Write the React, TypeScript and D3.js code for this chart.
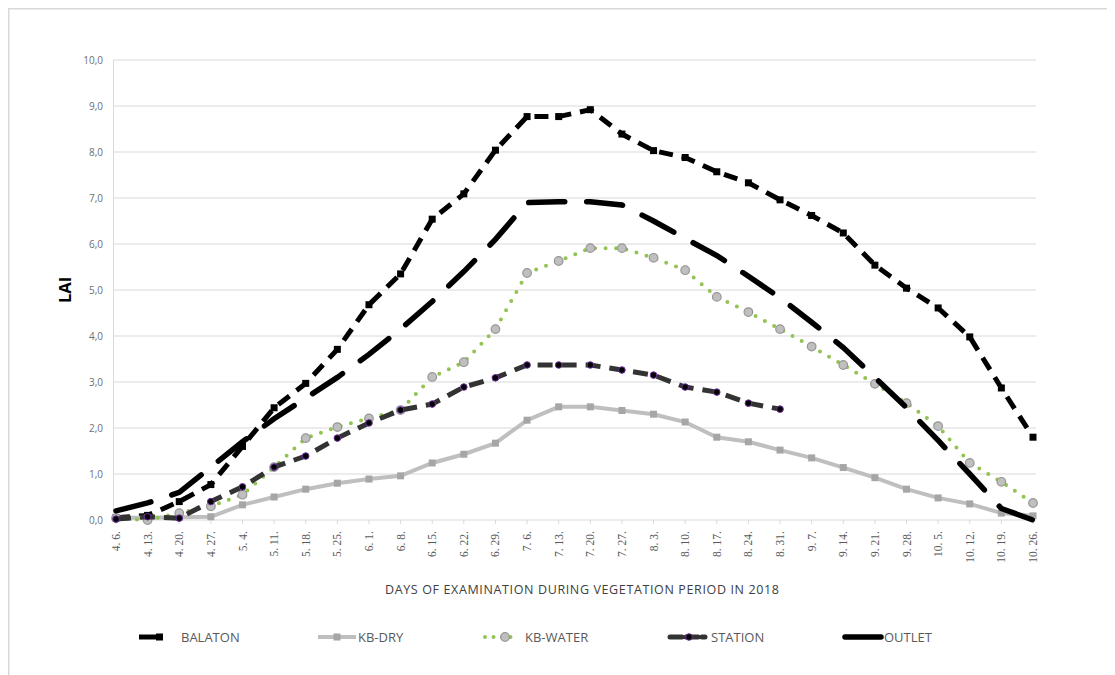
import React from "react";
import * as d3 from "d3";

const categories = ["4. 6.","4. 13.","4. 20.","4. 27.","5. 4.","5. 11.","5. 18.","5. 25.","6. 1.","6. 8.","6. 15.","6. 22.","6. 29.","7. 6.","7. 13.","7. 20.","7. 27.","8. 3.","8. 10.","8. 17.","8. 24.","8. 31.","9. 7.","9. 14.","9. 21.","9. 28.","10. 5.","10. 12.","10. 19.","10. 26."];

const balaton = [0.05,0.1,0.4,0.77,1.6,2.44,2.97,3.71,4.68,5.35,6.54,7.09,8.04,8.77,8.77,8.92,8.39,8.03,7.88,7.57,7.33,6.96,6.62,6.24,5.54,5.04,4.61,3.98,2.87,1.8];
const kbDry = [0.05,0.05,0.06,0.07,0.33,0.5,0.67,0.8,0.89,0.96,1.24,1.43,1.67,2.17,2.46,2.46,2.38,2.3,2.13,1.8,1.7,1.52,1.35,1.14,0.92,0.67,0.48,0.35,0.15,0.09];
const kbWater = [0.04,0.0,0.15,0.3,0.55,1.15,1.78,2.02,2.21,2.39,3.11,3.43,4.15,5.37,5.63,5.91,5.91,5.7,5.43,4.85,4.52,4.15,3.77,3.37,2.96,2.54,2.04,1.24,0.83,0.37];
const station: (number | null)[] = [0.02,0.07,0.04,0.4,0.72,1.15,1.39,1.78,2.11,2.39,2.52,2.89,3.09,3.37,3.37,3.37,3.26,3.15,2.89,2.78,2.54,2.41,null,null,null,null,null,null,null,null];
const outlet = [0.2,0.37,0.6,1.15,1.7,2.2,2.65,3.1,3.6,4.15,4.75,5.4,6.1,6.9,6.92,6.92,6.85,6.5,6.12,5.75,5.3,4.83,4.3,3.75,3.1,2.44,1.73,1.0,0.25,0.0];

const yTicks = [0,1,2,3,4,5,6,7,8,9,10];
const seriesNames = ["BALATON","KB-DRY","KB-WATER","STATION","OUTLET"];

const X0 = 116, X1 = 1033, Y0 = 520, Y1 = 60;

export default function App() {
  const x = d3.scalePoint<string>().domain(categories).range([X0, X1]);
  const y = d3.scaleLinear().domain([0, 10]).range([Y0, Y1]);
  const line = d3.line<[string, number | null]>()
    .defined(d => d[1] != null)
    .x(d => x(d[0]) as number)
    .y(d => y(d[1] as number));
  const pts = (arr: (number | null)[]) => categories.map((c, i) => [c, arr[i]] as [string, number | null]);

  const sans = "'Open Sans', 'Liberation Sans', sans-serif";
  const grid = "#d9d9d9";

  return (
    <svg width={1107} height={667} style={{ display: "block" }}>
      <g transform="translate(-8,-8)">
        <rect x={8} y={8} width={1107} height={667} fill="#fff" />
        <line x1={8.75} y1={8} x2={8.75} y2={675} stroke="#d9d9d9" strokeWidth={1.5} />
        <line x1={8} y1={8.75} x2={1115} y2={8.75} stroke="#d9d9d9" strokeWidth={1.5} />

        {yTicks.map(t => (
          <g key={t}>
            <line x1={113} x2={1036} y1={y(t)} y2={y(t)} stroke={grid} strokeWidth={1} />
            <text x={103} y={y(t)} dy="0.35em" textAnchor="end" fontSize={10} fill="#6f6f6f" fontFamily={sans}>
              {t.toFixed(1).replace(".", ",")}
            </text>
          </g>
        ))}
        <line x1={113.5} x2={113.5} y1={Y1} y2={Y0} stroke={grid} strokeWidth={1} />
        {categories.map(c => (
          <g key={c}>
            <line x1={x(c)} x2={x(c)} y1={Y0} y2={Y0 + 4} stroke={grid} strokeWidth={1} />
            <text transform={`translate(${x(c)},${Y0 + 11}) rotate(-90)`} dy="0.35em" textAnchor="end"
              fontSize={11.5} fill="#595959" fontFamily="'Liberation Serif', 'DejaVu Serif', serif">{c}</text>
          </g>
        ))}

        <text transform="translate(65,290) rotate(-90)" textAnchor="middle" dy="0.35em" fontSize={16.5} fontWeight="bold" fill="#000" fontFamily={sans}>LAI</text>
        <text x={385} y={590} dy="0.35em" textAnchor="start" fontSize={12.5} fill="#404040" fontFamily={sans}
          textLength={394} lengthAdjust="spacing">DAYS OF EXAMINATION DURING VEGETATION PERIOD IN 2018</text>

        {/* BALATON */}
        <path d={line(pts(balaton)) || ""} fill="none" stroke="#000" strokeWidth={5} strokeDasharray="14,9" />
        {balaton.map((v, i) => (
          <rect key={"b" + i} x={(x(categories[i]) as number) - 3.5} y={y(v) - 3.5} width={7} height={7} fill="#000" />
        ))}
        {/* KB-DRY */}
        <path d={line(pts(kbDry)) || ""} fill="none" stroke="#bfbfbf" strokeWidth={4} />
        {kbDry.map((v, i) => (
          <rect key={"d" + i} x={(x(categories[i]) as number) - 3.5} y={y(v) - 3.5} width={7} height={7} fill="#a6a6a6" />
        ))}
        {/* KB-WATER */}
        <path d={line(pts(kbWater)) || ""} fill="none" stroke="#92c353" strokeWidth={4} strokeDasharray="0,10.5" strokeLinecap="round" />
        {kbWater.map((v, i) => (
          <circle key={"w" + i} cx={x(categories[i]) as number} cy={y(v)} r={4.3} fill="#bfbfbf" stroke="#969696" strokeWidth={1.2} />
        ))}
        {/* STATION */}
        <path d={line(pts(station)) || ""} fill="none" stroke="#333" strokeWidth={5} strokeDasharray="15,9" />
        {station.map((v, i) => v == null ? null : (
          <circle key={"s" + i} cx={x(categories[i]) as number} cy={y(v)} r={3.3} fill="#000" stroke="#7030a0" strokeWidth={1} />
        ))}
        {/* OUTLET */}
        <path d={line(pts(outlet)) || ""} fill="none" stroke="#000" strokeWidth={5.5} strokeDasharray="36,22" strokeLinecap="round" />

        {/* Legend */}
        <g fontFamily={sans} fontSize={13} fill="#595959">
          <line x1={139} x2={162} y1={637} y2={637} stroke="#000" strokeWidth={5} />
          <rect x={156} y={633.5} width={7} height={7} fill="#000" />
          <text x={181} y={637} dy="0.35em">{seriesNames[0]}</text>

          <line x1={318} x2={356} y1={637} y2={637} stroke="#bfbfbf" strokeWidth={4} />
          <rect x={333.5} y={633.5} width={7} height={7} fill="#a6a6a6" />
          <text x={358} y={637} dy="0.35em">{seriesNames[1]}</text>

          <line x1={485} x2={518} y1={637} y2={637} stroke="#92c353" strokeWidth={4} strokeDasharray="0,8.5" strokeLinecap="round" />
          <circle cx={505} cy={637} r={4.3} fill="#bfbfbf" stroke="#969696" strokeWidth={1.2} />
          <text x={525} y={637} dy="0.35em">{seriesNames[2]}</text>

          <line x1={670} x2={705} y1={637} y2={637} stroke="#333" strokeWidth={5} strokeDasharray="12,4" strokeLinecap="round" />
          <circle cx={689} cy={637} r={3.3} fill="#000" stroke="#7030a0" strokeWidth={1} />
          <text x={711} y={637} dy="0.35em">{seriesNames[3]}</text>

          <line x1={845} x2={881} y1={637} y2={637} stroke="#000" strokeWidth={5.5} strokeLinecap="round" />
          <text x={884} y={637} dy="0.35em">{seriesNames[4]}</text>
        </g>
      </g>
    </svg>
  );
}
